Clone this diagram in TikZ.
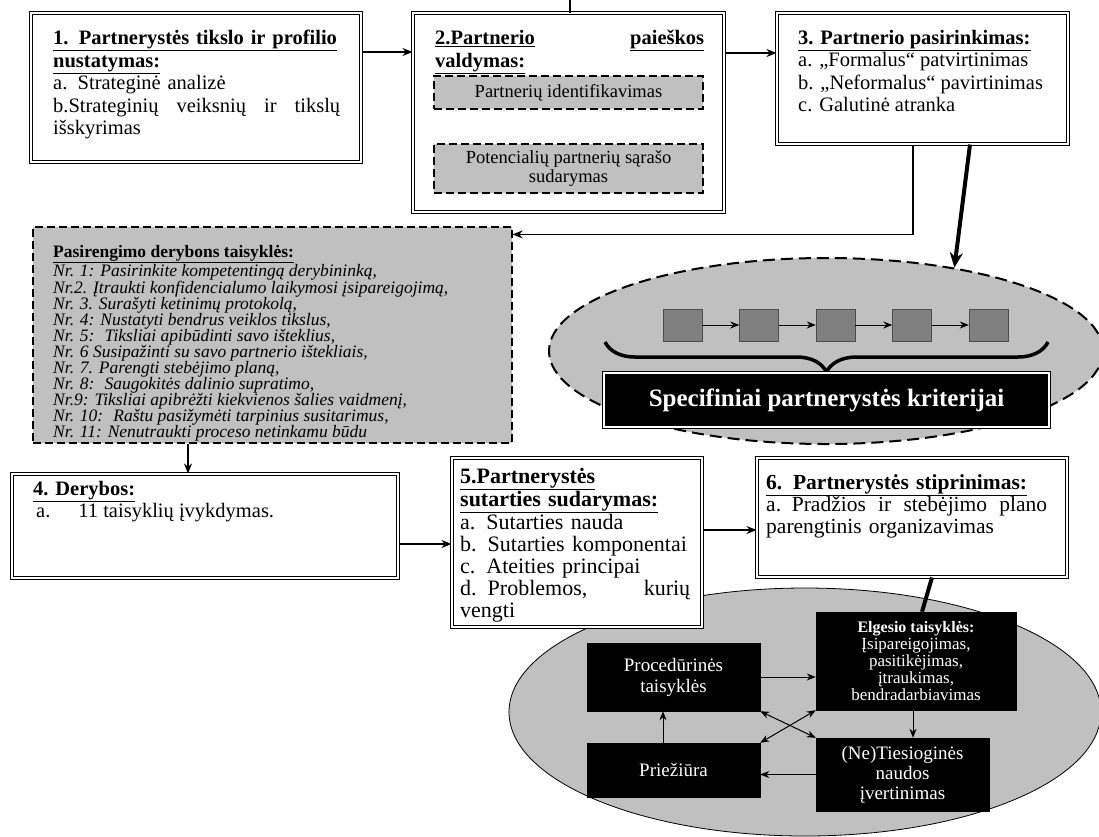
\documentclass[tikz,border=0pt]{standalone}
\usepackage{fontspec}
\setmainfont{Liberation Serif}
\usepackage{tikz}
\usetikzlibrary{positioning,calc,shapes,arrows.meta,decorations.pathreplacing}
\definecolor{lgray}{HTML}{C0C0C0}
\definecolor{dgray}{HTML}{808080}
\tikzset{stage/.style={draw, double, line width=1pt, double distance=2pt, fill=white, inner sep=0pt},
         txt/.style={anchor=north west, inner sep=0pt, align=left, font=\fontsize{20.5}{22.5}\selectfont},
         rules/.style={anchor=north west, inner sep=0pt, align=left, font=\fontsize{17.5}{16}\selectfont\itshape},
         gbox/.style={draw, dash pattern=on 8pt off 4pt, line width=1.2pt, fill=lgray, inner sep=0pt, align=center,
                      font=\fontsize{18.5}{19}\selectfont},
         bbox/.style={draw, fill=black, text=white, inner sep=0pt, align=center, font=\fontsize{19}{21}\selectfont},
         sq/.style={draw=black!70, fill=dgray, minimum width=39pt, minimum height=32pt, inner sep=0pt},
         edge/.style={->, >={Stealth[length=10pt,width=8pt]}, line width=1.5pt},
         arc/.style={->, >={Stealth[length=9pt,width=7pt]}, line width=1pt},
         post/.style={->, >={Stealth[length=15pt,width=13pt]}, line width=4pt}
}

\begin{document}
\begin{tikzpicture}[x=1pt,y=-1pt]
    \useasboundingbox (0,0) rectangle (1099,836);
    % ellipses first, the boxes lie over them
    \node[ellipse, draw, dash pattern=on 12pt off 6pt, line width=2pt, fill=lgray,
          minimum width=554pt, minimum height=186pt, inner sep=0pt] (E1) at (826,351) {};
    \node[ellipse, draw, line width=0.8pt, fill=lgray,
          minimum width=592pt, minimum height=248pt, inner sep=0pt] (E2) at (805,712) {};

    \node[stage, minimum width=330pt, minimum height=149pt] (S1) at (196,87.5) {};
    \node[stage, minimum width=311pt, minimum height=199pt] (S2) at (568.5,112.5) {};
    \node[stage, minimum width=291pt, minimum height=131pt] (S3) at (922.5,78.5) {};
    \node[gbox, minimum width=479pt, minimum height=216pt] (T) at (272.5,335) {};
    \node[stage, minimum width=386pt, minimum height=104pt] (S4) at (205,526) {};
    \node[stage, minimum width=250pt, minimum height=169pt] (S5) at (577,542.5) {};
    \node[stage, minimum width=310pt, minimum height=119pt] (S6) at (912,517.5) {};

    \node[txt, text width=287pt] (S1t) at (53,30) {\underline{\textbf{1. Partnerystės tikslo ir profilio}}\\
        \underline{\textbf{nustatymas:}}\\
        a. Strateginė analizė\\
        b.Strateginių\hfill veiksnių\hfill ir\hfill tikslų\\
        išskyrimas};
    \node[txt, text width=269pt] (S2t) at (435,30) {\underline{\textbf{2.Partnerio}}\hfill\underline{\textbf{paieškos}}\\
        \underline{\textbf{valdymas:}}};
    \node[gbox, minimum width=269pt, minimum height=33pt] (D1) at (568.5,92.5) {Partnerių identifikavimas};
    \node[gbox, minimum width=269pt, minimum height=49pt] (D2) at (568.5,168.5) {Potencialių partnerių sąrašo\\sudarymas};
    \node[txt] (S3t) at (798,30) {\underline{\textbf{3. Partnerio pasirinkimas:}}\\
        a. „Formalus“ patvirtinimas\\
        b. „Neformalus“ pavirtinimas\\
        c. Galutinė atranka};
    \node[rules] (Tt) at (53,245) {\textup{\underline{\textbf{Pasirengimo derybons taisyklės:}}}\\
        Nr. 1: Pasirinkite kompetentingą derybininką,\\
        Nr.2. Įtraukti konfidencialumo laikymosi įsipareigojimą,\\
        Nr. 3. Surašyti ketinimų protokolą,\\
        Nr. 4: Nustatyti bendrus veiklos tikslus,\\
        Nr. 5: \ Tiksliai apibūdinti savo išteklius,\\
        Nr. 6 Susipažinti su savo partnerio ištekliais,\\
        Nr. 7. Parengti stebėjimo planą,\\
        Nr. 8: \ Saugokitės dalinio supratimo,\\
        Nr.9: Tiksliai apibrėžti kiekvienos šalies vaidmenį,\\
        Nr. 10: \ Raštu pasižymėti tarpinius susitarimus,\\
        Nr. 11: Nenutraukti proceso netinkamu būdu};
    \node[txt] (S4t) at (33,481) {\underline{\textbf{4. Derybos:}}\\
        \hspace*{3pt}a.\hspace{28pt}11 taisyklių įvykdymas.};
    \node[txt, text width=230pt, font=\fontsize{22}{22}\selectfont] (S5t) at (460,468) {\underline{\textbf{5.Partnerystės}}\\
        \underline{\textbf{sutarties sudarymas:}}\\
        a. Sutarties nauda\\
        b. Sutarties komponentai\\
        c. Ateities principai\\
        d. Problemos,\hfill kurių\\
        vengti};
    \node[txt, text width=281pt, font=\fontsize{21.5}{22}\selectfont] (S6t) at (766,474) {\underline{\textbf{6. Partnerystės stiprinimas:}}\\
        a. Pradžios\hfill ir\hfill stebėjimo\hfill plano\\
        parengtinis organizavimas};

    % criteria chain
    \foreach \i in {1,...,5}
        \node[sq] (Q\i) at (606+76.5*\i,325) {};
    \foreach \i [count=\j from 2] in {1,...,4}
        \draw[arc] (Q\i) -- (Q\j);
    \coordinate (b1) at (605,342);
    \coordinate (b2) at (1048,342);
    \draw[decorate, decoration={brace, mirror, amplitude=30pt}, line width=3.5pt] (b1) -- (b2);
    \node[bbox, double, line width=0.8pt, double distance=1.5pt, minimum width=445pt, minimum height=54pt,
          font=\fontsize{25}{27}\selectfont\bfseries] (K) at (826.5,400) {Specifiniai partnerystės kriterijai};

    % rules of conduct
    \node[bbox, minimum width=173pt, minimum height=68pt] (Pr) at (673.5,677) {Procedūrinės\\taisyklės};
    \node[bbox, minimum width=200pt, minimum height=98pt, font=\fontsize{17}{17}\selectfont] (G) at (916,661)
        {{\fontsize{16}{17}\selectfont\bfseries Elgesio taisyklės:}\\Įsipareigojimas,\\pasitikėjimas,\\įtraukimas,\\bendradarbiavimas};
    \node[bbox, minimum width=173pt, minimum height=54pt] (Pz) at (673.5,770) {Priežiūra};
    \node[bbox, minimum width=173pt, minimum height=73pt, font=\fontsize{19}{20}\selectfont] (N) at (902.5,774.5)
        {(Ne)Tiesioginės\\naudos\\įvertinimas};

    \coordinate (top) at (570,0);
    \draw[line width=1.5pt] (top) -- (top |- S2.north);
    \coordinate (a1) at ($(S1.east)+(0,-35.5)$);
    \draw[edge] (a1) -- (a1 -| S2.west);
    \coordinate (a2) at ($(S2.east)+(0,-59.5)$);
    \draw[edge] (a2) -- (a2 -| S3.west);
    \coordinate (a3) at ($(S3.south)+(-9.5,0)$);
    \draw[edge] (a3) |- ($(T.north east)+(0,8)$);
    \coordinate (a5) at ($(S3.south)+(47.5,0)$);
    \draw[post] (a5) -- (E1.33);
    \coordinate (a6) at ($(T.south)+(-84.5,0)$);
    \draw[edge] (a6) -- (a6 |- S4.north);
    \coordinate (a7) at ($(S4.east)+(0,18)$);
    \draw[edge] (a7) -- (a7 -| S5.west);
    \coordinate (a8) at ($(S5.east)+(0,-12.5)$);
    \draw[edge] (a8) -- (a8 -| S6.west);
    \draw[line width=4pt] ($(S6.south)+(20,0)$) -- ($(G.north)+(6,0)$);

    \draw[arc] (Pr.east) -- (Pr.east -| G.west);
    \coordinate (g1) at ($(G.south)+(-3,0)$);
    \draw[arc] (g1) -- (g1 |- N.north);
    \draw[arc] (N.west) -- (N.west -| Pz.east);
    \coordinate (p1) at ($(Pz.north)+(-10.5,0)$);
    \draw[arc] (p1) -- (p1 |- Pr.south);
    \draw[arc, <->] (Pr.south east) -- (N.north west);
    \draw[arc, <->] (Pz.north east) -- (G.south west);
\end{tikzpicture}
\end{document}
